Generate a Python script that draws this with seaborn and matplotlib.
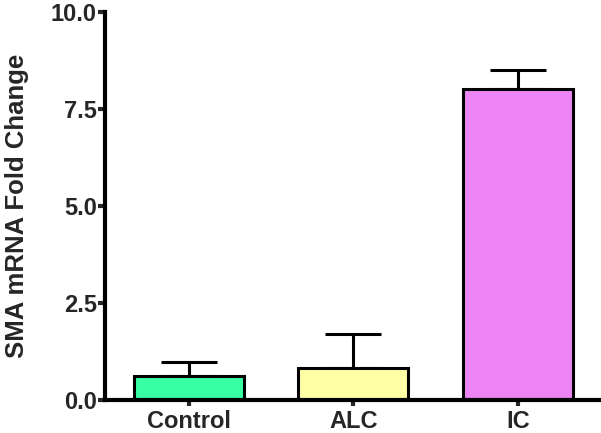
import numpy as np
import pandas as pd
import seaborn as sns
import matplotlib.pyplot as plt

groups = ["Control", "ALC", "IC"]
fold_change = [0.62, 0.83, 8.02]
sem = [0.36, 0.87, 0.48]
bar_colors = ["#38ffa4", "#ffffa6", "#ec84f4"]

sns.set_style("white")
plt.rcParams['font.family'] = ['Liberation Sans', 'DejaVu Sans']
plt.rcParams['font.weight'] = 'bold'

df = pd.DataFrame({"group": groups, "fold": fold_change})

fig = plt.figure(figsize=(6.01, 4.33), dpi=100)
ax = fig.add_axes([0.1747, 0.0762, 0.8236, 0.896])

sns.barplot(data=df, x="group", y="fold", hue="group", palette=bar_colors,
            order=groups, hue_order=groups, legend=False, errorbar=None,
            saturation=1, width=0.67, edgecolor="black", linewidth=2.2,
            ax=ax, zorder=3)

# upper error bars only
x_pos = np.arange(len(groups))
ax.errorbar(x_pos, fold_change, yerr=[np.zeros(len(sem)), sem], fmt="none",
            ecolor="black", elinewidth=2.2, capsize=20, capthick=2.2, zorder=2)

ax.set_xlim(-0.51, 2.5)
ax.set_ylim(0, 10)
ax.set_yticks([0, 2.5, 5.0, 7.5, 10.0])
ax.set_yticklabels(["0.0", "2.5", "5.0", "7.5", "10.0"])
ax.set_xlabel("")
ax.set_ylabel("SMA mRNA Fold Change", fontsize=18.5, fontweight="bold")
ax.yaxis.set_label_coords(-0.153, 0.5)

for side in ["top", "right"]:
    ax.spines[side].set_visible(False)
for side in ["left", "bottom"]:
    ax.spines[side].set_linewidth(3)
    ax.spines[side].set_color("black")
ax.spines["bottom"].set_zorder(5)

ax.tick_params(axis="y", direction="out", length=5, width=3, labelsize=17, pad=1, left=True)
ax.tick_params(axis="x", direction="out", length=4, width=3, labelsize=17, pad=3, bottom=True)
for lbl in ax.get_xticklabels() + ax.get_yticklabels():
    lbl.set_fontweight("bold")

fig.savefig("out.png", dpi=100)
